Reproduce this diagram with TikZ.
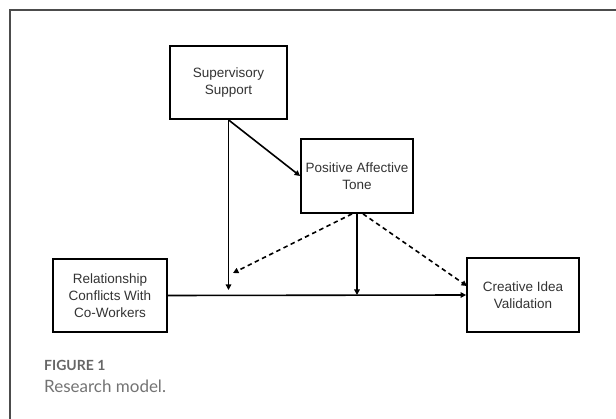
\documentclass[tikz,border=0pt]{standalone}
\usepackage{fontspec}
\setmainfont{Liberation Sans}
\newfontfamily\capfont{Lato}
\usetikzlibrary{arrows.meta}

\tikzset{
  varbox/.style={draw, line width=1.8pt, align=center, inner sep=0pt,
    text=black!80, font=\fontsize{13.5}{17}\selectfont},
  path/.style={line width=1.6pt, -{Triangle[length=5.5pt,width=5.5pt]}},
  indirect/.style={path, dashed, dash pattern=on 4.5pt off 3.5pt}
}

\begin{document}
\begin{tikzpicture}[x=1pt,y=-1pt]
\useasboundingbox (0,0) rectangle (616,419);
\draw[black!70, line width=1.2pt] (616,10)--(10,10)--(10,419);

% variables
\node[varbox, minimum width=117pt, minimum height=73pt] (sup) at (228.5,82.5) {Supervisory\\Support};
\node[varbox, minimum width=112pt, minimum height=74pt] (pat) at (357,176) {Positive Affective\\Tone};
\node[varbox, minimum width=114pt, minimum height=73pt] (rel) at (110,295.5) {Relationship\\Conflicts With\\Co-Workers};
\node[varbox, minimum width=112pt, minimum height=74pt] (civ) at (523,295) {Creative Idea\\Validation};

\coordinate (m1) at (228.5,290);
\coordinate (m2) at (357,295);
\coordinate (d1) at (233,273);
\coordinate (d2) at (467,286);

\begin{scope}
\draw[path] (rel.east) -- (civ.west);
\draw[path] (sup.south) -- (m1);
\draw[path] (sup.south) -- (pat.west);
\draw[path] (pat.south) -- (m2);
\end{scope}

\begin{scope}
\draw[indirect] ([xshift=-5pt]pat.south) -- (d1);
\draw[indirect] ([xshift=6pt]pat.south) -- (d2);
\end{scope}

% caption
\node[anchor=base west, inner sep=0pt, text=black!60, font=\capfont\bfseries\fontsize{14}{14}\selectfont] (fig) at (44,371) {FIGURE 1};
\node[anchor=base west, inner sep=0pt, text=black!55, font=\capfont\fontsize{17}{17}\selectfont] (cap) at (44,393) {Research model.};
\end{tikzpicture}
\end{document}
